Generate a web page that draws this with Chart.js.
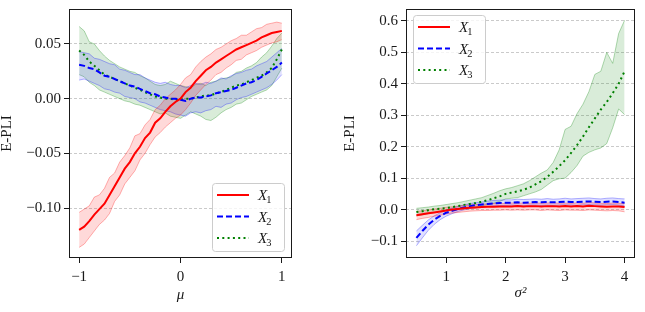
<!DOCTYPE html>
<html>
<head>
<meta charset="utf-8">
<script src="https://cdn.jsdelivr.net/npm/chart.js@4/dist/chart.umd.min.js"></script>
<style>
  html, body { margin: 0; padding: 0; background: #fff; }
  #wrap { position: relative; width: 645px; height: 312px; }
  canvas { position: absolute; top: 0; }
  #left { left: 0; }
  #right { left: 320px; }
</style>
</head>
<body>
<div id="wrap">
  <canvas id="left" width="310" height="312"></canvas>
  <canvas id="right" width="325" height="312"></canvas>
</div>
<script>
// ---- left panel: E-PLI vs mu ----
const muValues = [-1.00, -0.95, -0.90, -0.85, -0.80, -0.75, -0.70, -0.65, -0.60, -0.55, -0.50, -0.45, -0.40, -0.35, -0.30, -0.25, -0.20, -0.15, -0.10, -0.05, 0.00,
  0.05, 0.10, 0.15, 0.20, 0.25, 0.30, 0.35, 0.40, 0.45, 0.50, 0.55, 0.60, 0.65, 0.70, 0.75, 0.80, 0.85, 0.90, 0.95, 1.00];

const muX1 = [-0.120, -0.117, -0.112, -0.106, -0.101, -0.096, -0.088, -0.080, -0.072, -0.064, -0.058, -0.050, -0.044, -0.036, -0.031, -0.022, -0.018, -0.012, -0.007, -0.003, 0.000,
  0.006, 0.010, 0.016, 0.021, 0.026, 0.029, 0.033, 0.036, 0.039, 0.042, 0.045, 0.047, 0.049, 0.051, 0.053, 0.056, 0.058, 0.060, 0.061, 0.062];
const muX1Upper = [-0.104, -0.101, -0.098, -0.090, -0.088, -0.082, -0.072, -0.068, -0.058, -0.052, -0.045, -0.034, -0.032, -0.024, -0.019, -0.010, -0.006, 0.000, 0.004, 0.008, 0.013,
  0.019, 0.022, 0.029, 0.034, 0.038, 0.041, 0.045, 0.047, 0.050, 0.053, 0.055, 0.058, 0.058, 0.061, 0.064, 0.065, 0.068, 0.069, 0.070, 0.069];
const muX1Lower = [-0.136, -0.133, -0.127, -0.121, -0.115, -0.111, -0.105, -0.094, -0.088, -0.078, -0.072, -0.066, -0.056, -0.050, -0.042, -0.035, -0.031, -0.026, -0.022, -0.018, -0.015,
  -0.010, -0.004, 0.003, 0.008, 0.013, 0.017, 0.022, 0.024, 0.028, 0.031, 0.035, 0.036, 0.040, 0.042, 0.044, 0.047, 0.049, 0.051, 0.052, 0.054];

const muX2 = [0.031, 0.030, 0.028, 0.027, 0.024, 0.021, 0.020, 0.018, 0.016, 0.014, 0.012, 0.011, 0.009, 0.007, 0.005, 0.004, 0.002, 0.001, 0.000, 0.000, -0.001,
  -0.002, 0.000, 0.001, 0.001, 0.002, 0.003, 0.005, 0.006, 0.007, 0.008, 0.010, 0.012, 0.014, 0.015, 0.017, 0.020, 0.023, 0.026, 0.029, 0.033];
const muX2Upper = [0.043, 0.042, 0.041, 0.037, 0.036, 0.034, 0.032, 0.031, 0.027, 0.026, 0.024, 0.022, 0.022, 0.019, 0.017, 0.015, 0.014, 0.015, 0.013, 0.012, 0.012,
  0.010, 0.012, 0.014, 0.013, 0.015, 0.014, 0.016, 0.019, 0.018, 0.021, 0.023, 0.024, 0.026, 0.027, 0.030, 0.032, 0.034, 0.038, 0.042, 0.046];
const muX2Lower = [0.017, 0.018, 0.016, 0.014, 0.012, 0.009, 0.008, 0.006, 0.005, 0.002, 0.001, 0.000, -0.003, -0.004, -0.006, -0.008, -0.010, -0.011, -0.012, -0.014, -0.015,
  -0.016, -0.013, -0.012, -0.013, -0.011, -0.010, -0.007, -0.008, -0.005, -0.004, -0.001, 0.001, 0.002, 0.004, 0.006, 0.008, 0.010, 0.013, 0.017, 0.022];

const muX3 = [0.044, 0.040, 0.034, 0.030, 0.026, 0.022, 0.020, 0.018, 0.016, 0.014, 0.012, 0.010, 0.008, 0.006, 0.004, 0.002, 0.001, 0.000, 0.000, -0.001, -0.001,
  0.000, 0.000, 0.001, 0.002, 0.003, 0.003, 0.005, 0.006, 0.008, 0.010, 0.012, 0.013, 0.015, 0.017, 0.019, 0.021, 0.024, 0.028, 0.036, 0.045];
const muX3Upper = [0.066, 0.062, 0.052, 0.050, 0.044, 0.039, 0.035, 0.032, 0.029, 0.027, 0.025, 0.024, 0.021, 0.019, 0.016, 0.013, 0.012, 0.013, 0.016, 0.014, 0.012,
  0.011, 0.010, 0.013, 0.014, 0.012, 0.015, 0.016, 0.018, 0.019, 0.020, 0.024, 0.025, 0.028, 0.030, 0.033, 0.038, 0.042, 0.048, 0.055, 0.060];
const muX3Lower = [0.022, 0.020, 0.015, 0.012, 0.008, 0.006, 0.004, 0.002, 0.000, -0.002, -0.003, -0.005, -0.006, -0.008, -0.010, -0.012, -0.014, -0.013, -0.016, -0.017, -0.018,
  -0.015, -0.012, -0.014, -0.016, -0.019, -0.020, -0.017, -0.013, -0.010, -0.008, -0.005, -0.004, -0.001, 0.002, 0.004, 0.006, 0.008, 0.012, 0.020, 0.028];

const muTicks = [-1, 0, 1];
const muTickLabels = ['\u22121', '0', '1'];
const leftYTicks = [-0.10, -0.05, 0.00, 0.05];
const leftYTickLabels = ['\u22120.10', '\u22120.05', '0.00', '0.05'];

// ---- right panel: E-PLI vs sigma^2 ----
const sigmaValues = [0.5, 0.6, 0.7, 0.8, 0.9, 1.0, 1.1, 1.2, 1.3, 1.4, 1.5, 1.6, 1.7, 1.8, 1.9, 2.0, 2.1, 2.2,
  2.3, 2.4, 2.5, 2.6, 2.7, 2.8, 2.9, 3.0, 3.1, 3.2, 3.3, 3.4, 3.5, 3.6, 3.7, 3.8, 3.9, 4.0];

const sigX1 = [-0.018, -0.015, -0.012, -0.009, -0.006, -0.003, 0.000, 0.002, 0.004, 0.006, 0.007, 0.008, 0.009, 0.009, 0.010, 0.010, 0.010, 0.011,
  0.010, 0.011, 0.011, 0.010, 0.011, 0.011, 0.010, 0.011, 0.010, 0.011, 0.010, 0.012, 0.011, 0.010, 0.009, 0.010, 0.010, 0.008];
const sigX1Upper = [-0.006, -0.004, -0.001, 0.002, 0.004, 0.007, 0.009, 0.011, 0.013, 0.015, 0.016, 0.017, 0.018, 0.019, 0.020, 0.019, 0.021, 0.020,
  0.021, 0.020, 0.022, 0.020, 0.021, 0.022, 0.020, 0.021, 0.019, 0.022, 0.020, 0.023, 0.021, 0.020, 0.019, 0.021, 0.020, 0.019];
const sigX1Lower = [-0.032, -0.028, -0.025, -0.021, -0.018, -0.014, -0.011, -0.009, -0.007, -0.005, -0.004, -0.003, -0.003, -0.002, -0.002, -0.001, -0.002, -0.001,
  -0.002, -0.001, -0.001, -0.003, -0.001, -0.002, -0.003, -0.001, -0.002, -0.002, -0.003, -0.001, -0.002, -0.003, -0.004, -0.003, -0.004, -0.007];

const sigX2 = [-0.090, -0.068, -0.048, -0.032, -0.020, -0.010, -0.004, 0.002, 0.007, 0.011, 0.014, 0.016, 0.018, 0.020, 0.021, 0.022, 0.022, 0.023,
  0.022, 0.023, 0.024, 0.023, 0.024, 0.023, 0.024, 0.025, 0.024, 0.024, 0.025, 0.026, 0.025, 0.024, 0.025, 0.026, 0.024, 0.022];
const sigX2Upper = [-0.068, -0.050, -0.033, -0.020, -0.010, -0.001, 0.005, 0.010, 0.015, 0.019, 0.022, 0.024, 0.027, 0.029, 0.030, 0.031, 0.031, 0.033,
  0.032, 0.033, 0.034, 0.033, 0.035, 0.033, 0.034, 0.036, 0.034, 0.035, 0.036, 0.037, 0.035, 0.034, 0.036, 0.037, 0.035, 0.034];
const sigX2Lower = [-0.115, -0.090, -0.066, -0.047, -0.032, -0.021, -0.013, -0.006, -0.001, 0.003, 0.006, 0.008, 0.010, 0.012, 0.013, 0.013, 0.014, 0.013,
  0.012, 0.014, 0.014, 0.013, 0.014, 0.013, 0.014, 0.015, 0.014, 0.013, 0.015, 0.016, 0.015, 0.014, 0.015, 0.016, 0.014, 0.012];

const sigX3 = [-0.008, -0.005, -0.002, 0.001, 0.003, 0.005, 0.008, 0.011, 0.015, 0.018, 0.021, 0.025, 0.030, 0.036, 0.042, 0.050, 0.054, 0.058,
  0.063, 0.070, 0.080, 0.090, 0.104, 0.120, 0.138, 0.157, 0.180, 0.205, 0.232, 0.262, 0.290, 0.318, 0.342, 0.370, 0.400, 0.440];
const sigX3Upper = [0.004, 0.006, 0.008, 0.011, 0.013, 0.016, 0.019, 0.022, 0.026, 0.030, 0.034, 0.038, 0.045, 0.052, 0.060, 0.066, 0.070, 0.076,
  0.082, 0.092, 0.104, 0.116, 0.126, 0.150, 0.190, 0.255, 0.265, 0.305, 0.335, 0.375, 0.430, 0.440, 0.500, 0.465, 0.560, 0.602];
const sigX3Lower = [-0.020, -0.017, -0.013, -0.009, -0.006, -0.004, -0.002, 0.001, 0.004, 0.007, 0.009, 0.012, 0.016, 0.020, 0.026, 0.034, 0.036, 0.038,
  0.044, 0.050, 0.056, 0.064, 0.078, 0.092, 0.098, 0.100, 0.118, 0.140, 0.170, 0.182, 0.190, 0.196, 0.210, 0.260, 0.320, 0.302];

const sigmaTicks = [1, 2, 3, 4];
const sigmaTickLabels = ['1', '2', '3', '4'];
const rightYTicks = [-0.1, 0.0, 0.1, 0.2, 0.3, 0.4, 0.5, 0.6];
const rightYTickLabels = ['\u22120.1', '0.0', '0.1', '0.2', '0.3', '0.4', '0.5', '0.6'];

const legendNames = ['1', '2', '3'];

const FONT = '"Liberation Serif", "DejaVu Serif", serif';
const INK = '#1a1a1a';
const RED = [255, 0, 0];
const BLUE = [0, 0, 255];
const GREEN = [0, 128, 0];
const styles = [
  { rgb: RED, dash: [], fill: 0.15 },
  { rgb: BLUE, dash: [6, 3], fill: 0.12 },
  { rgb: GREEN, dash: [2, 3.3], fill: 0.15 },
];

function rgba(c, a) {
  return `rgba(${c[0]}, ${c[1]}, ${c[2]}, ${a})`;
}

function points(xs, ys) {
  return xs.map((x, i) => ({ x: x, y: ys[i] }));
}

function buildDatasets(xs, groups) {
  const out = [];
  groups.forEach((g, k) => {
    const st = styles[k];
    out.push({ data: points(xs, g[1]), borderColor: rgba(st.rgb, 0.3), borderWidth: 1, pointRadius: 0, fill: false, order: 3 });
    out.push({ data: points(xs, g[2]), borderColor: rgba(st.rgb, 0.3), borderWidth: 1, pointRadius: 0,
      fill: '-1', backgroundColor: rgba(st.rgb, st.fill), order: 3 });
  });
  groups.forEach((g, k) => {
    const st = styles[k];
    out.push({ data: points(xs, g[0]), borderColor: rgba(st.rgb, 1), borderWidth: 2, borderDash: st.dash,
      borderCapStyle: 'butt', pointRadius: 0, fill: false, order: 1 });
  });
  return out;
}

function drawLegend(chart, corner) {
  const a = chart.chartArea;
  const ctx = chart.ctx;
  const w = 72, h = 68;
  const x0 = corner === 'br' ? a.right - 8 - w : a.left + 7;
  const y0 = corner === 'br' ? a.bottom - 7 - h : a.top + 6;
  ctx.save();
  ctx.beginPath();
  ctx.roundRect(x0 + 0.5, y0 + 0.5, w, h, 3);
  ctx.fillStyle = 'rgba(255, 255, 255, 0.8)';
  ctx.fill();
  ctx.strokeStyle = '#cccccc';
  ctx.lineWidth = 1;
  ctx.stroke();
  legendNames.forEach((name, i) => {
    const st = styles[i];
    const y = y0 + 12 + i * 21.5;
    ctx.beginPath();
    ctx.setLineDash(st.dash);
    ctx.lineCap = 'butt';
    ctx.strokeStyle = rgba(st.rgb, 1);
    ctx.lineWidth = 2;
    ctx.moveTo(x0 + 5, y);
    ctx.lineTo(x0 + 37, y);
    ctx.stroke();
    ctx.setLineDash([]);
    ctx.fillStyle = INK;
    ctx.textBaseline = 'alphabetic';
    ctx.textAlign = 'left';
    ctx.font = 'italic 15px ' + FONT;
    ctx.fillText('X', x0 + 46, y + 5);
    const xw = ctx.measureText('X').width;
    ctx.font = '10.5px ' + FONT;
    ctx.fillText(name, x0 + 46 + xw - 1, y + 8);
  });
  ctx.restore();
}

const framePlugin = {
  id: 'frameAndLegend',
  afterDraw(chart, args, opts) {
    const a = chart.chartArea;
    const ctx = chart.ctx;
    ctx.save();
    ctx.strokeStyle = INK;
    ctx.lineWidth = 1;
    ctx.strokeRect(a.left + 0.5, a.top + 0.5, a.right - a.left - 1, a.bottom - a.top - 1);
    ctx.restore();
    drawLegend(chart, opts.corner);
  },
};

function makeChart(id, cfg) {
  const tickFont = { family: FONT, size: 15 };
  return new Chart(document.getElementById(id), {
    type: 'line',
    data: { datasets: buildDatasets(cfg.xs, cfg.groups) },
    options: {
      responsive: false,
      animation: false,
      layout: { padding: { top: 9, right: cfg.padRight, bottom: 0, left: 0 } },
      plugins: {
        legend: { display: false },
        tooltip: { enabled: false },
        frameAndLegend: { corner: cfg.corner },
      },
      scales: {
        x: {
          type: 'linear',
          min: cfg.xMin,
          max: cfg.xMax,
          afterBuildTicks: (s) => { s.ticks = cfg.xTicks.map((v) => ({ value: v })); },
          afterFit: (s) => { s.height = 54; s.paddingLeft = 0; s.paddingRight = 0; },
          ticks: { font: tickFont, color: INK, padding: 5, maxRotation: 0, autoSkip: false,
            callback: (v, i) => cfg.xLabels[i] },
          grid: { drawOnChartArea: false, tickColor: INK, tickLength: 5, tickWidth: 1 },
          border: { display: false },
          title: { display: true, text: cfg.xTitle, color: INK,
            font: { family: FONT, size: 15, style: 'italic', lineHeight: 1 },
            padding: { top: 0, bottom: cfg.xTitlePad } },
        },
        y: {
          type: 'linear',
          min: cfg.yMin,
          max: cfg.yMax,
          afterBuildTicks: (s) => { s.ticks = cfg.yTicks.map((v) => ({ value: v })); },
          afterFit: (s) => { s.width = cfg.yWidth; s.paddingTop = 0; s.paddingBottom = 0; },
          ticks: { font: tickFont, color: INK, padding: 3, autoSkip: false,
            callback: (v, i) => cfg.yLabels[i] },
          grid: { color: '#bdbdbd', lineWidth: 0.8, tickColor: INK, tickLength: 5, tickWidth: 1, tickBorderDash: [] },
          border: { display: false, dash: [3, 2] },
          title: { display: true, text: 'E-PLI', color: INK,
            font: { family: FONT, size: 15, lineHeight: 1 },
            padding: { top: cfg.yTitlePad, bottom: 0 } },
        },
      },
    },
    plugins: [framePlugin],
  });
}

makeChart('left', {
  xs: muValues,
  groups: [[muX1, muX1Upper, muX1Lower], [muX2, muX2Upper, muX2Lower], [muX3, muX3Upper, muX3Lower]],
  xMin: -1.1, xMax: 1.1, xTicks: muTicks, xLabels: muTickLabels, xTitle: '\u03bc', xTitlePad: 9,
  yMin: -0.1457, yMax: 0.082, yTicks: leftYTicks, yLabels: leftYTickLabels,
  yWidth: 69, yTitlePad: 0, padRight: 18, corner: 'br',
});

makeChart('right', {
  xs: sigmaValues,
  groups: [[sigX1, sigX1Upper, sigX1Lower], [sigX2, sigX2Upper, sigX2Lower], [sigX3, sigX3Upper, sigX3Lower]],
  xMin: 0.325, xMax: 4.175, xTicks: sigmaTicks, xLabels: sigmaTickLabels, xTitle: '\u03c3\u00b2', xTitlePad: 11,
  yMin: -0.154, yMax: 0.638, yTicks: rightYTicks, yLabels: rightYTickLabels,
  yWidth: 86, yTitlePad: 22.5, padRight: 10, corner: 'tl',
});
</script>
</body>
</html>
